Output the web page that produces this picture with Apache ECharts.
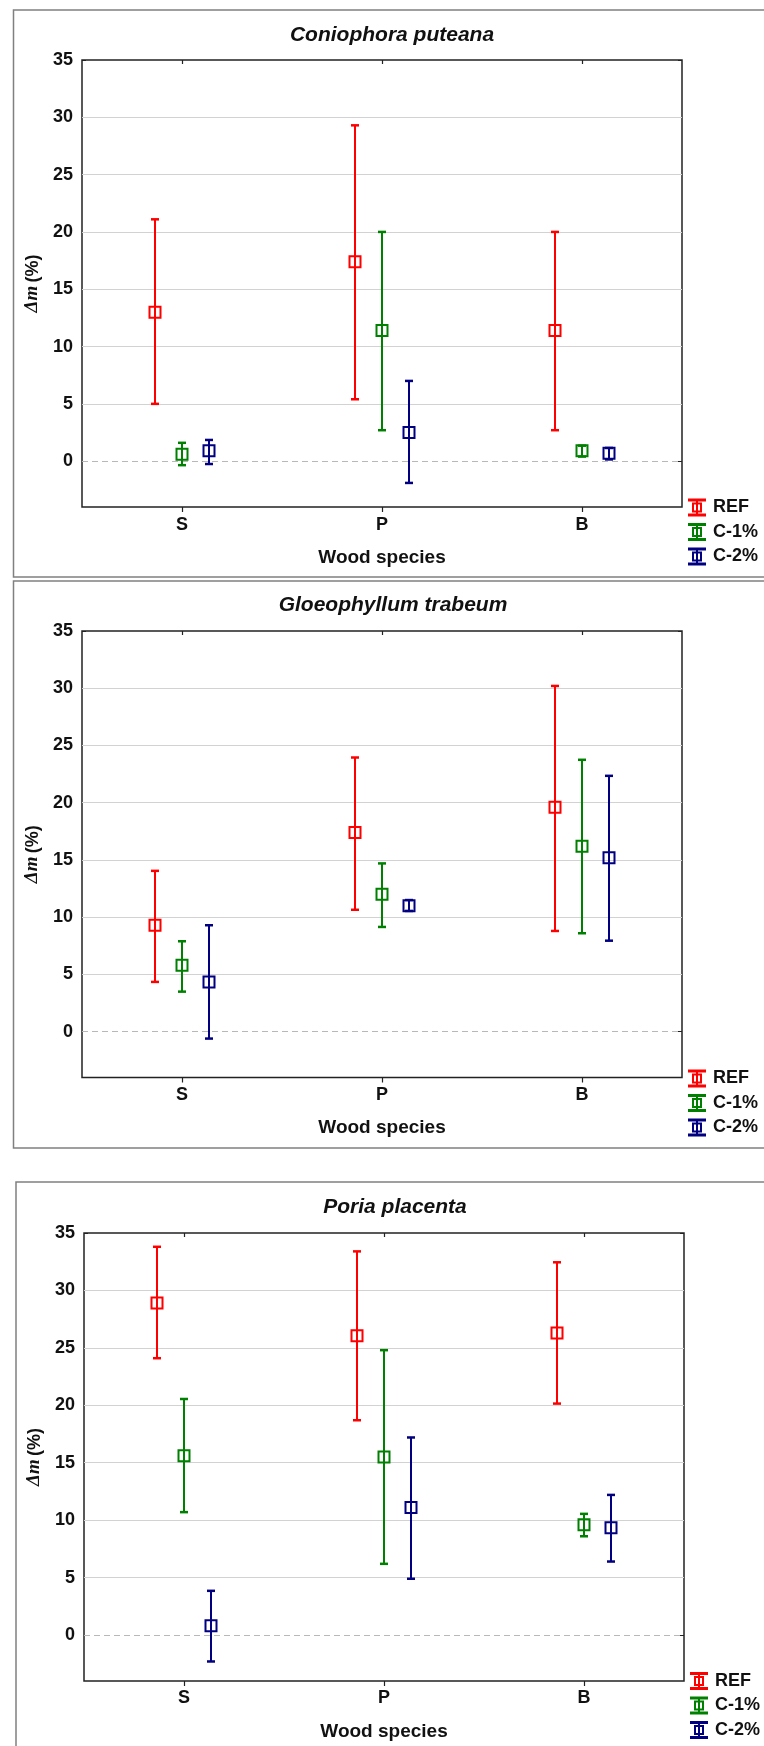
<!DOCTYPE html>
<html>
<head>
<meta charset="utf-8">
<script src="https://cdn.jsdelivr.net/npm/echarts@6/dist/echarts.min.js"></script>
<style>
  html, body { margin: 0; padding: 0; background: #fff; }
  #chart { width: 764px; height: 1746px; }
</style>
</head>
<body>
<div id="chart"></div>
<script>
// wood species on the x axis, the three treatments as series
const categories = ['S', 'P', 'B']
const seriesNames = ['REF', 'C-1%', 'C-2%']
const yTicks = [0, 5, 10, 15, 20, 25, 30, 35]
const gridValues = [0, 5, 10, 15, 20, 25, 30]
const panelTitles = ['Coniophora puteana', 'Gloeophyllum trabeum', 'Poria placenta']

// Coniophora puteana: one row per series (REF, C-1%, C-2%), columns S, P, B
const cpMean = [[13.0, 17.4, 11.4], [0.6, 11.4, 0.9], [0.9, 2.5, 0.7]]
const cpLow = [[5.0, 5.4, 2.7], [-0.35, 2.7, 0.4], [-0.25, -1.9, 0.15]]
const cpHigh = [[21.1, 29.3, 20.0], [1.6, 20.0, 1.35], [1.85, 7.0, 1.15]]

// Gloeophyllum trabeum
const gtMean = [[9.3, 17.4, 19.6], [5.8, 12.0, 16.2], [4.35, 11.0, 15.2]]
const gtLow = [[4.35, 10.65, 8.8], [3.5, 9.15, 8.6], [-0.6, 10.55, 7.95]]
const gtHigh = [[14.05, 23.95, 30.2], [7.9, 14.7, 23.75], [9.3, 11.5, 22.35]]

// Poria placenta
const ppMean = [[28.9, 26.05, 26.3], [15.6, 15.5, 9.6], [0.8, 11.1, 9.35]]
const ppLow = [[24.1, 18.7, 20.15], [10.7, 6.2, 8.6], [-2.3, 4.9, 6.4]]
const ppHigh = [[33.8, 33.4, 32.45], [20.55, 24.8, 10.55], [3.85, 17.2, 12.2]]

const panels = [
  {title: panelTitles[0], mean: cpMean, low: cpLow, high: cpHigh},
  {title: panelTitles[1], mean: gtMean, low: gtLow, high: gtHigh},
  {title: panelTitles[2], mean: ppMean, low: ppLow, high: ppHigh},
]

const COLORS = ['#ff0000', '#008000', '#000080']
const OFFSETS = [-0.135, 0, 0.135] // fraction of the category band
const FONT = 'Liberation Sans, Arial, sans-serif'

// layout of each panel (plot box, frame, title, legend)
const LAYOUT = [
  {grid: [82, 60, 600, 447], frame: [13.5, 10, 770, 577], title: [392, 35], legend: [688, 498.5], yGap: 39, lblMargin: 9},
  {grid: [82, 631, 600, 446.5], frame: [13.5, 581, 770, 1148], title: [393, 605], legend: [688, 1069.5], yGap: 39, lblMargin: 8.5},
  {grid: [84, 1233, 600, 448], frame: [16, 1182, 770, 1760], title: [395, 1207], legend: [690, 1672], yGap: 36, lblMargin: 8},
]

// legend icon: caps, stem and hollow square
const ICON = 'path://M0 0H18V3H0Z M0 15H18V18H0Z M8 0H10V18H8Z M4 4H14V14H4Z M6 6V12H12V6Z'

const makeRenderItem = (k) => (params, api) => {
  const band = api.size([1, 0])[0]
  const c = api.value(0)
  const pMean = api.coord([c, api.value(1)])
  const x = pMean[0] + band * OFFSETS[k]
  const yLow = api.coord([c, api.value(2)])[1]
  const yHigh = api.coord([c, api.value(3)])[1]
  const color = COLORS[k]
  return {
    type: 'group',
    children: [
      {type: 'line', shape: {x1: x, y1: yHigh, x2: x, y2: yLow}, style: {stroke: color, lineWidth: 2}},
      {type: 'line', shape: {x1: x - 4, y1: yHigh, x2: x + 4, y2: yHigh}, style: {stroke: color, lineWidth: 2.5}},
      {type: 'line', shape: {x1: x - 4, y1: yLow, x2: x + 4, y2: yLow}, style: {stroke: color, lineWidth: 2.5}},
      {type: 'rect', shape: {x: x - 5.5, y: pMean[1] - 5.5, width: 11, height: 11}, style: {fill: 'none', stroke: color, lineWidth: 2}},
    ],
  }
}

const chart = echarts.init(document.getElementById('chart'), null, {renderer: 'canvas'})

const grid = [], xAxis = [], yAxis = [], series = [], title = [], legend = [], graphic = []

panels.forEach((p, i) => {
  const L = LAYOUT[i]
  grid.push({
    left: L.grid[0], top: L.grid[1], width: L.grid[2], height: L.grid[3],
    show: true, borderColor: '#222', borderWidth: 1.5, backgroundColor: 'transparent',
  })
  // bottom category axis
  xAxis.push({
    type: 'category', gridIndex: i, data: categories, position: 'bottom',
    name: 'Wood species', nameLocation: 'middle', nameGap: 41,
    nameTextStyle: {fontFamily: FONT, fontWeight: 'bold', fontSize: 19, color: '#111'},
    axisLine: {show: false, onZero: false},
    axisTick: {show: true, alignWithLabel: true, length: 5, lineStyle: {color: '#222', width: 1.2}},
    axisLabel: {margin: L.lblMargin, fontFamily: FONT, fontWeight: 'bold', fontSize: 18, color: '#111'},
    splitLine: {show: false},
  })
  // top axis only for the inner ticks
  xAxis.push({
    type: 'category', gridIndex: i, data: categories, position: 'top',
    axisLine: {show: false, onZero: false},
    axisTick: {show: true, inside: true, alignWithLabel: true, length: 4, lineStyle: {color: '#222', width: 1.2}},
    axisLabel: {show: false},
    splitLine: {show: false},
  })
  yAxis.push({
    type: 'value', gridIndex: i, min: -4, max: 35, position: 'left',
    name: '{i|Δm} {n|(%)}', nameLocation: 'middle', nameGap: L.yGap, nameRotate: 90,
    nameTextStyle: {
      color: '#111',
      rich: {
        i: {fontFamily: 'Liberation Serif, serif', fontStyle: 'italic', fontWeight: 'bold', fontSize: 19, color: '#111'},
        n: {fontFamily: FONT, fontWeight: 'bold', fontSize: 18, color: '#111'},
      },
    },
    axisLine: {show: false, onZero: false},
    axisTick: {show: true, inside: true, length: 4, customValues: yTicks, lineStyle: {color: '#222'}},
    axisLabel: {margin: 9, customValues: yTicks, fontFamily: FONT, fontWeight: 'bold', fontSize: 18, color: '#111'},
    splitLine: {show: false},
  })
  yAxis.push({
    type: 'value', gridIndex: i, min: -4, max: 35, position: 'right',
    axisLine: {show: false, onZero: false},
    axisTick: {show: true, inside: true, length: 4, customValues: yTicks, lineStyle: {color: '#222'}},
    axisLabel: {show: false},
    splitLine: {show: false},
  })

  seriesNames.forEach((name, k) => {
    const s = {
      type: 'custom', name: name,
      xAxisIndex: 2 * i, yAxisIndex: 2 * i,
      itemStyle: {color: COLORS[k]},
      renderItem: makeRenderItem(k),
      encode: {x: 0, y: [1, 2, 3]},
      data: categories.map((c, j) => [j, p.mean[k][j], p.low[k][j], p.high[k][j]]),
      animation: false,
      z: 3,
    }
    if (k === 0) {
      s.markLine = {
        silent: true, symbol: 'none', animation: false, z: 1,
        label: {show: false},
        emphasis: {disabled: true},
        data: gridValues.map((v) => ({
          yAxis: v,
          lineStyle: v === 0
            ? {color: '#b8b8b8', type: [6, 4], width: 1}
            : {color: '#d2d2d2', type: 'solid', width: 1},
        })),
      }
    }
    series.push(s)
  })

  title.push({
    text: p.title, left: L.title[0], top: L.title[1], padding: 0,
    textAlign: 'center', textVerticalAlign: 'middle',
    textStyle: {fontFamily: FONT, fontStyle: 'italic', fontWeight: 'bold', fontSize: 21, color: '#111'},
  })

  legend.push({
    orient: 'vertical', left: L.legend[0], top: L.legend[1], padding: 0,
    itemWidth: 18, itemHeight: 18, itemGap: 6.5, selectedMode: false,
    itemStyle: {borderWidth: 0},
    data: seriesNames.map((n) => ({name: n, icon: ICON})),
    textStyle: {fontFamily: FONT, fontWeight: 'bold', fontSize: 18, color: '#111', padding: [0, 0, 0, 2]},
  })

  // outer frame of the panel
  graphic.push({
    type: 'rect', silent: true, z: -1,
    shape: {x: L.frame[0], y: L.frame[1], width: L.frame[2] - L.frame[0], height: L.frame[3] - L.frame[1]},
    style: {fill: 'none', stroke: '#808080', lineWidth: 1.5},
  })
})

chart.setOption({
  backgroundColor: '#fff',
  animation: false,
  title, legend, grid, xAxis, yAxis, series, graphic,
})
</script>
</body>
</html>
